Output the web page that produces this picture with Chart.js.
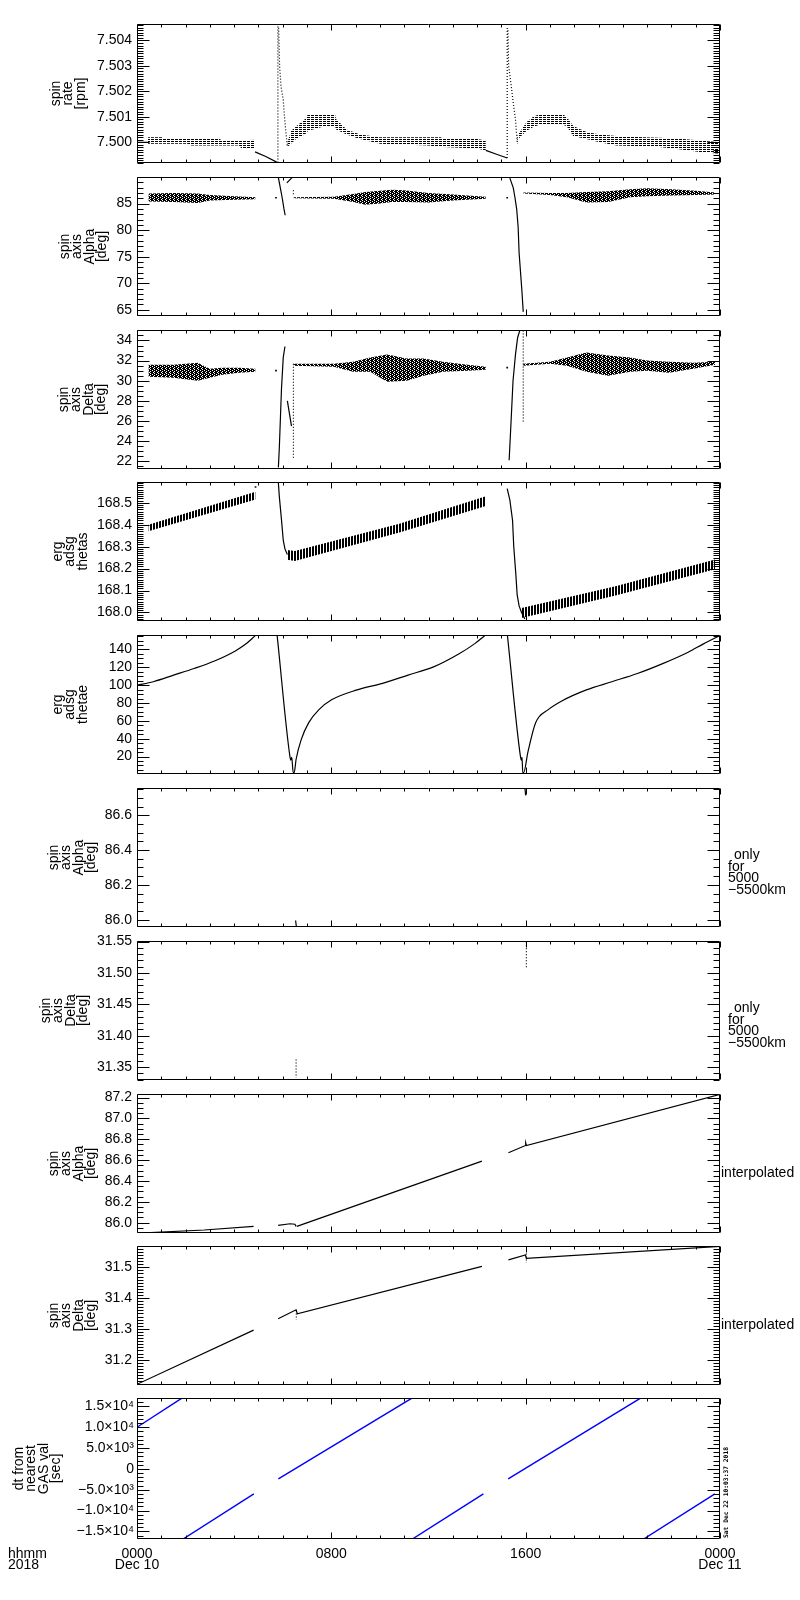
<!DOCTYPE html>
<html>
<head>
<meta charset="utf-8">
<title>spin axis summary</title>
<script src="https://cdn.jsdelivr.net/npm/chart.js@4.4.1/dist/chart.umd.min.js"></script>
<style>
  body { margin: 0; background: #fff; }
  #page { position: relative; width: 800px; height: 1600px; overflow: hidden; }
  #page canvas { position: absolute; left: 0; }
</style>
</head>
<body>
<div id="page"></div>
<script>
// x is hours after 0000 Dec 10 2018, bands are [h, low, high]

// X AXIS
const hourTicks = [0, 8, 16, 24];
const hourLabels = [['0000', 'Dec 10'], '0800', '1600', ['0000', 'Dec 11']];

// SPIN RATE [rpm]
const rateTicks = [7.500, 7.501, 7.502, 7.503, 7.504];
const rateLabels = ['7.500', '7.501', '7.502', '7.503', '7.504'];
const rateFlat0 = [[0, 7.50000], [0.45, 7.50000]];
const rateBandA = [[0.45, 7.49994, 7.50020], [1.05, 7.49994, 7.50020], [1.1, 7.49994, 7.50013], [2.1, 7.49994, 7.50013],
  [2.2, 7.49987, 7.50013], [3.4, 7.49987, 7.50013], [3.5, 7.49987, 7.50007], [4.2, 7.49987, 7.50007],
  [4.3, 7.49975, 7.50007], [4.86, 7.49975, 7.50010]];
const rateDropA = [[4.86, 7.49962], [5.3, 7.49944], [5.75, 7.49922]];
const rateSpikeA = [[5.80, 7.49920], [5.80, 7.50460]];
const rateDecayA = [[5.83, 7.50450], [5.87, 7.50300], [5.93, 7.50218], [6.02, 7.50167], [6.07, 7.50102], [6.13, 7.50040], [6.19, 7.49981]];
const rateBandB = [[6.19, 7.49981, 7.50000], [6.35, 7.49995, 7.50045], [6.57, 7.50015, 7.50064], [6.91, 7.50030, 7.50090],
  [7.05, 7.50045, 7.50111], [7.6, 7.50060, 7.50111], [8.15, 7.50064, 7.50111], [8.2, 7.50050, 7.50090],
  [8.63, 7.50030, 7.50050], [9.18, 7.50013, 7.50030], [10.0, 7.49994, 7.50020], [12.0, 7.49987, 7.50020],
  [12.5, 7.49981, 7.50020], [12.6, 7.49981, 7.50013], [14.0, 7.49975, 7.50013], [14.36, 7.49968, 7.50007]];
const rateDropB = [[14.36, 7.49968], [14.8, 7.49953], [15.24, 7.49938]];
const rateSpikeB = [[15.24, 7.49938], [15.24, 7.50455]];
const rateDecayB = [[15.27, 7.50440], [15.30, 7.50300], [15.42, 7.50210], [15.50, 7.50146], [15.58, 7.50090], [15.65, 7.50000]];
const rateBandC = [[15.65, 7.49990, 7.50025], [15.76, 7.50020, 7.50040], [16.04, 7.50045, 7.50080], [16.31, 7.50060, 7.50100],
  [16.59, 7.50070, 7.50111], [17.5, 7.50070, 7.50111], [17.68, 7.50064, 7.50100], [17.96, 7.50025, 7.50064],
  [18.5, 7.50013, 7.50040], [19.05, 7.50000, 7.50030], [19.74, 7.49987, 7.50025], [20.84, 7.49984, 7.50020],
  [21.52, 7.49981, 7.50018], [22.48, 7.49970, 7.50013], [23.17, 7.49962, 7.50007], [24, 7.49955, 7.50000]];

// SPIN AXIS ALPHA [deg]
const alphaTicks = [65, 70, 75, 80, 85];
const alphaLabels = ['65', '70', '75', '80', '85'];
const alphaBandA = [[0.47, 85.4, 86.9], [1.5, 85.3, 87.0], [2.5, 85.1, 86.9], [3.0, 85.6, 86.6], [4.0, 85.7, 86.4], [4.88, 85.8, 86.2]];
const alphaDotA = [[5.72, 86.1]];
const alphaDropA = [[5.82, 89.9], [5.92, 87.5], [5.98, 86.0], [6.05, 84.0], [6.1, 82.8]];
const alphaKinkA = [[6.17, 88.9], [6.38, 89.9]];
const alphaDotsA = [[6.44, 87.5], [6.44, 86.4]];
const alphaBandB = [[6.44, 86.0, 86.2], [8.1, 85.9, 86.3], [8.9, 85.3, 86.8], [9.4, 84.8, 87.2], [10.0, 85.0, 87.4],
  [10.5, 85.3, 87.6], [11.0, 85.3, 87.5], [12.0, 85.2, 87.0], [13.0, 85.6, 86.7], [14.36, 85.9, 86.3]];
const alphaDotB = [[15.24, 86.1]];
const alphaDropB = [[15.35, 89.8], [15.49, 87.95], [15.56, 86.1], [15.63, 83.97], [15.69, 80.6], [15.73, 75.7],
  [15.79, 72.0], [15.84, 68.9], [15.9, 64.6]];
const alphaBandC = [[15.9, 86.9, 87.1], [17.0, 86.6, 87.0], [17.7, 86.2, 87.0], [18.5, 85.2, 87.2], [19.4, 85.3, 87.3],
  [20.3, 86.2, 87.7], [21.0, 86.4, 87.9], [22.0, 86.5, 87.7], [23.0, 86.6, 87.4], [23.8, 86.7, 87.1]];

// SPIN AXIS DELTA [deg]
const deltaTicks = [22, 24, 26, 28, 30, 32, 34];
const deltaLabels = ['22', '24', '26', '28', '30', '32', '34'];
const deltaBandA = [[0.47, 30.4, 31.6], [1.5, 30.3, 31.6], [2.5, 30.0, 31.8], [3.0, 30.3, 31.2], [3.5, 30.6, 31.3],
  [4.2, 30.8, 31.3], [4.88, 30.9, 31.2]];
const deltaDotA = [[5.72, 31.0]];
const deltaRiseA = [[5.82, 21.4], [5.86, 23.4], [5.91, 26.7], [5.95, 29.3], [6.02, 32.3], [6.09, 33.4]];
const deltaKinkA = [[6.19, 28.0], [6.36, 25.5]];
const deltaDotsA = [[6.44, 31.7], [6.44, 22.2]];
const deltaBandB = [[6.44, 31.5, 31.7], [8.1, 31.4, 31.7], [8.9, 30.9, 31.9], [9.6, 30.9, 32.3], [10.3, 29.9, 32.6],
  [11.1, 30.0, 32.2], [11.8, 30.5, 32.2], [12.6, 30.9, 31.9], [13.6, 31.0, 31.6], [14.36, 31.1, 31.4]];
const deltaDotB = [[15.24, 31.3]];
const deltaRiseB = [[15.32, 22.1], [15.40, 26.0], [15.48, 30.0], [15.58, 32.6], [15.67, 34.3], [15.76, 35.0]];
const deltaDotsB = [[15.9, 35.0], [15.9, 25.8]];
const deltaBandC = [[15.9, 31.5, 31.7], [17.0, 31.7, 31.9], [17.7, 31.5, 32.3], [18.5, 30.9, 32.8], [19.4, 30.5, 32.5],
  [20.3, 30.9, 32.3], [21.0, 31.0, 32.0], [21.9, 30.8, 31.9], [22.9, 31.2, 31.8], [23.8, 31.6, 31.9]];

// ERG ADSG THETAS
const thetasTicks = [168.0, 168.1, 168.2, 168.3, 168.4, 168.5];
const thetasLabels = ['168.0', '168.1', '168.2', '168.3', '168.4', '168.5'];
const thetasBandA = [[0.47, 168.370, 168.400], [4.88, 168.515, 168.550]];
const thetasDotA = [[4.88, 168.572]];
const thetasDropA = [[5.82, 168.590], [5.86, 168.527], [5.95, 168.420], [6.02, 168.330], [6.09, 168.290], [6.19, 168.264]];
const thetasBandB = [[6.19, 168.240, 168.285], [6.5, 168.235, 168.280], [10.8, 168.365, 168.405], [14.36, 168.485, 168.530]];
const thetasDropB = [[15.24, 168.565], [15.35, 168.512], [15.46, 168.420], [15.51, 168.300], [15.6, 168.167],
  [15.65, 168.080], [15.73, 168.030], [15.83, 168.000], [15.97, 167.970]];
const thetasBandC = [[15.83, 167.975, 168.020], [19.7, 168.077, 168.120], [23.8, 168.197, 168.242]];

// ERG ADSG THETAE
const thetaeTicks = [20, 40, 60, 80, 100, 120, 140];
const thetaeLabels = ['20', '40', '60', '80', '100', '120', '140'];
const thetaeA = [[0, 100], [0.67, 103.9], [1.51, 111.3], [2.35, 118.7], [3.19, 127.1], [4.03, 138.1], [4.45, 145.5], [4.87, 155.5]];
const thetaeB = [[5.77, 155.5], [6.29, 21], [6.33, 16], [6.37, 19], [6.43, 2], [6.47, 2], [6.55, 17], [6.76, 39], [7.07, 58],
  [7.49, 72.6], [8.01, 83.6], [9.06, 94.7], [10.11, 102.1], [11.16, 111.3], [12.21, 120.5], [13.26, 135.2], [13.89, 146.3], [14.31, 155.5]];
const thetaeC = [[15.25, 155.5], [15.78, 21], [15.82, 16], [15.85, 19], [15.88, 2], [15.92, 2], [16.09, 24.7], [16.41, 57.9],
  [16.93, 72.6], [17.45, 81.8], [18.5, 94.7], [19.55, 103.9], [20.6, 113.1], [21.64, 124.2], [22.69, 137], [23.32, 146.3], [24, 155.8]];

// SPIN AXIS ALPHA, only for 5000-5500km
const alphaOnlyTicks = [86.0, 86.2, 86.4, 86.6];
const alphaOnlyLabels = ['86.0', '86.2', '86.4', '86.6'];
const alphaOnlyA = [[6.53, 85.995], [6.56, 85.960]];
const alphaOnlyB = [[15.97, 86.755], [16.0, 86.715]];

// SPIN AXIS DELTA, only for 5000-5500km
const deltaOnlyTicks = [31.35, 31.40, 31.45, 31.50, 31.55];
const deltaOnlyLabels = ['31.35', '31.40', '31.45', '31.50', '31.55'];
const deltaOnlyA = [[6.55, 31.362], [6.55, 31.333]];
const deltaOnlyB = [[16.03, 31.549], [16.03, 31.509]];

// SPIN AXIS ALPHA, interpolated
const alphaIntTicks = [86.0, 86.2, 86.4, 86.6, 86.8, 87.0, 87.2];
const alphaIntLabels = ['86.0', '86.2', '86.4', '86.6', '86.8', '87.0', '87.2'];
const alphaIntA = [[0.55, 85.905], [2.77, 85.930], [4.8, 85.965]];
const alphaIntB = [[5.81, 85.975], [6.3, 85.990], [6.5, 85.985], [6.55, 85.965]];
const alphaIntC = [[6.58, 85.965], [14.2, 86.590]];
const alphaIntD = [[15.29, 86.670], [15.99, 86.740], [16.0, 86.765], [16.03, 86.740], [24, 87.230]];

// SPIN AXIS DELTA, interpolated
const deltaIntTicks = [31.2, 31.3, 31.4, 31.5];
const deltaIntLabels = ['31.2', '31.3', '31.4', '31.5'];
const deltaIntA = [[0, 31.120], [4.8, 31.296]];
const deltaIntB = [[5.81, 31.333], [6.55, 31.362], [6.6, 31.349], [14.2, 31.503]];
const deltaIntTickB = [[6.56, 31.360], [6.56, 31.330]];
const deltaIntC = [[15.29, 31.524], [15.99, 31.540], [16.03, 31.529], [24, 31.568]];
const deltaIntTickC = [[16.03, 31.545], [16.03, 31.515]];

// DT FROM NEAREST GAS VAL [sec]
const dtTicks = [-15000, -10000, -5000, 0, 5000, 10000, 15000];
const dtLabels = ['\u22121.5\u00d710\u2074', '\u22121.0\u00d710\u2074', '\u22125.0\u00d710\u00b3', '0', '5.0\u00d710\u00b3', '1.0\u00d710\u2074', '1.5\u00d710\u2074'];
const dtSeg1 = [[0, 10000], [1.85, 17000]];
const dtSeg2 = [[1.88, -16900], [4.81, -6000]];
const dtSeg3 = [[5.82, -2400], [11.32, 17000]];
const dtSeg4 = [[11.32, -16900], [14.26, -6000]];
const dtSeg5 = [[15.28, -2400], [20.73, 17000]];
const dtSeg6 = [[20.84, -16900], [23.79, -6000]];

const FONT = '"Liberation Sans", Arial, sans-serif';

// texture fills, made per canvas
function makeFills(ctx) {
  function tile(rows) {
    const c = document.createElement('canvas');
    c.width = rows[0].length;
    c.height = rows.length;
    const g = c.getContext('2d');
    g.fillStyle = '#000';
    rows.forEach((r, j) => [...r].forEach((ch, i) => { if (ch === 'x') g.fillRect(i, j, 1, 1); }));
    return ctx.createPattern(c, 'repeat');
  }
  return {
    rows: tile(['xx.xxx.x', '........']),
    speck: tile(['xx.x', '.xxx', 'xx.x', 'x.xx']),
    hatch: tile(['xx.'])
  };
}

const pts = rows => rows.map(r => ({ x: r[0], y: r[1] }));

function line(rows, dash, color, width) {
  return {
    data: pts(rows), borderColor: color || '#000', borderWidth: width || 1.2,
    borderDash: dash || [], pointRadius: 0, fill: false, tension: 0
  };
}

// smooth curve through the read points (thetae)
function curve(rows) {
  return Object.assign(line(rows), { cubicInterpolationMode: 'monotone' });
}

function dots(rows) {
  return {
    data: pts(rows), showLine: false, pointStyle: 'rect', pointRadius: 1.2,
    pointBackgroundColor: '#000', pointBorderWidth: 0
  };
}

function band(rows, fill) {
  return [
    { data: rows.map(r => ({ x: r[0], y: r[2] })), fill: '+1', backgroundColor: fill,
      borderColor: 'transparent', borderWidth: 1, pointRadius: 0 },
    { data: rows.map(r => ({ x: r[0], y: r[1] })), fill: false,
      borderColor: 'transparent', borderWidth: 1, pointRadius: 0 }
  ];
}

const dotted = [1, 2];
const onlyNote = ['only', 'for', '5000', '\u22125500km'];

const panels = [
  { title: ['spin', 'rate', '[rpm]'], titleX: 56, min: 7.49920, max: 7.50463, ticks: rateTicks, labels: rateLabels, minor: 0.0001,
    sets: F => [...band(rateBandA, F.rows), line(rateFlat0), line(rateDropA), line(rateSpikeA, dotted), line(rateDecayA, dotted),
      ...band(rateBandB, F.rows), line(rateDropB), line(rateSpikeB, dotted), line(rateDecayB, dotted), ...band(rateBandC, F.rows)] },
  { title: ['spin', 'axis', 'Alpha', '[deg]'], titleX: 65, min: 63.9, max: 89.93, ticks: alphaTicks, labels: alphaLabels, minor: 1,
    sets: F => [...band(alphaBandA, F.speck), dots(alphaDotA), line(alphaDropA), line(alphaKinkA), line(alphaDotsA, dotted),
      ...band(alphaBandB, F.speck), dots(alphaDotB), line(alphaDropB), ...band(alphaBandC, F.speck)] },
  { title: ['spin', 'axis', 'Delta', '[deg]'], titleX: 64, min: 21.28, max: 35.0, ticks: deltaTicks, labels: deltaLabels, minor: 0.5,
    sets: F => [...band(deltaBandA, F.speck), dots(deltaDotA), line(deltaRiseA), line(deltaKinkA), line(deltaDotsA, dotted),
      ...band(deltaBandB, F.speck), dots(deltaDotB), line(deltaRiseB), line(deltaDotsB, dotted), ...band(deltaBandC, F.speck)] },
  { title: ['erg', 'adsg', 'thetas'], titleX: 58, min: 167.963, max: 168.593, ticks: thetasTicks, labels: thetasLabels, minor: 0.01,
    sets: F => [...band(thetasBandA, F.hatch), dots(thetasDotA), line(thetasDropA), ...band(thetasBandB, F.hatch),
      line(thetasDropB), ...band(thetasBandC, F.hatch)] },
  { title: ['erg', 'adsg', 'thetae'], titleX: 58, min: 0.9, max: 155.8, ticks: thetaeTicks, labels: thetaeLabels, minor: 5,
    sets: F => [curve(thetaeA), curve(thetaeB), curve(thetaeC)] },
  { title: ['spin', 'axis', 'Alpha', '[deg]'], titleX: 54, min: 85.96, max: 86.755, ticks: alphaOnlyTicks, labels: alphaOnlyLabels, minor: 0.05,
    note: onlyNote, sets: F => [line(alphaOnlyA), line(alphaOnlyB)] },
  { title: ['spin', 'axis', 'Delta', '[deg]'], titleX: 46, min: 31.33, max: 31.5502, ticks: deltaOnlyTicks, labels: deltaOnlyLabels, minor: 0.01,
    note: onlyNote, sets: F => [line(deltaOnlyA, dotted), line(deltaOnlyB, dotted)] },
  { title: ['spin', 'axis', 'Alpha', '[deg]'], titleX: 54, min: 85.905, max: 87.23, ticks: alphaIntTicks, labels: alphaIntLabels, minor: 0.05,
    note: ['interpolated'], sets: F => [line(alphaIntA), line(alphaIntB), line(alphaIntC), line(alphaIntD)] },
  { title: ['spin', 'axis', 'Delta', '[deg]'], titleX: 54, min: 31.119, max: 31.568, ticks: deltaIntTicks, labels: deltaIntLabels, minor: 0.01,
    note: ['interpolated'], sets: F => [line(deltaIntA), line(deltaIntB), line(deltaIntTickB, dotted), line(deltaIntC), line(deltaIntTickC, dotted)] },
  { title: ['dt from', 'nearest', 'GAS val', '[sec]'], titleX: 19, min: -16830, max: 17020, ticks: dtTicks, labels: dtLabels, minor: 1000, tickPad: 3,
    sets: F => [dtSeg1, dtSeg2, dtSeg3, dtSeg4, dtSeg5, dtSeg6].map(s => line(s, [], '#0000ff', 1.4)) }
];

// IDL style frame, inward ticks and side texts
const idlAxes = {
  id: 'idlAxes',
  afterDraw(chart, args, o) {
    const { ctx, chartArea: a, scales: { x, y } } = chart;
    const L = Math.round(a.left) + 0.5, R = Math.round(a.right) - 0.5;
    const T = Math.round(a.top) + 0.5, B = Math.round(a.bottom) - 0.5;
    ctx.save();
    ctx.strokeStyle = '#000';
    ctx.lineWidth = 1;
    ctx.beginPath();
    ctx.rect(L, T, R - L, B - T);
    const n0 = Math.ceil(y.min / o.minor - 1e-6), n1 = Math.floor(y.max / o.minor + 1e-6);
    for (let n = n0; n <= n1; n++) {
      const v = n * o.minor;
      const py = Math.round(y.getPixelForValue(v)) + 0.5;
      const len = o.ticks.some(t => Math.abs(t - v) < o.minor / 4) ? 12 : 6;
      ctx.moveTo(L, py); ctx.lineTo(L + len, py);
      ctx.moveTo(R, py); ctx.lineTo(R - len, py);
    }
    for (let h = 0; h <= 24; h++) {
      const px = Math.round(x.getPixelForValue(h)) + 0.5;
      const len = hourTicks.includes(h) ? 6 : 3;
      ctx.moveTo(px, T); ctx.lineTo(px, T + len);
      ctx.moveTo(px, B); ctx.lineTo(px, B - len);
    }
    ctx.stroke();

    ctx.fillStyle = '#000';
    ctx.font = '14px ' + FONT;
    ctx.textBaseline = 'middle';
    ctx.textAlign = 'left';
    if (o.note && o.note.length > 1) {
      o.note.forEach((s, k) => ctx.fillText(s, k === 0 ? 734 : 728, a.top + 67 + k * 11.5));
    } else if (o.note) {
      ctx.fillText(o.note[0], 721, a.top + 78.5);
    }
    if (o.last) {
      ctx.fillText('hhmm', 8, a.bottom + 14.75);
      ctx.fillText('2018', 8, a.bottom + 26.25);
      ctx.save();
      ctx.translate(726, a.bottom - 1);
      ctx.rotate(-Math.PI / 2);
      ctx.font = 'bold 6.3px "DejaVu Sans Mono", monospace';
      ctx.fillText('Sat Dec 22 10:03:37 2018', 0, 0);
      ctx.restore();
    }
    ctx.restore();
  }
};
Chart.register(idlAxes);

const page = document.getElementById('page');
panels.forEach((p, i) => {
  const last = i === panels.length - 1;
  const cv = document.createElement('canvas');
  cv.width = 800;
  cv.height = last ? 205 : 165;
  cv.style.top = (Math.round(23 + i * 152.8) - 12) + 'px';
  page.appendChild(cv);
  const ctx = cv.getContext('2d');
  const F = makeFills(ctx);

  new Chart(ctx, {
    type: 'line',
    data: { datasets: p.sets(F) },
    options: {
      responsive: false,
      animation: false,
      layout: { padding: { left: 0, right: 80, top: 12, bottom: 12 } },
      plugins: {
        legend: { display: false },
        tooltip: { enabled: false },
        idlAxes: { minor: p.minor, ticks: p.ticks, note: p.note, last }
      },
      scales: {
        x: {
          type: 'linear', min: 0, max: 24, display: last,
          afterBuildTicks: s => { s.ticks = hourTicks.map(v => ({ value: v })); },
          afterFit: s => { s.height = last ? 40 : 0; },
          grid: { display: false, drawTicks: false },
          border: { display: false },
          ticks: {
            color: '#000', font: { family: FONT, size: 14, lineHeight: 0.82 }, padding: 9,
            maxRotation: 0, autoSkip: false, callback: (v, k) => hourLabels[k]
          }
        },
        y: {
          type: 'linear', min: p.min, max: p.max,
          afterBuildTicks: s => { s.ticks = p.ticks.map(v => ({ value: v })); },
          afterFit: s => { s.width = 137; },
          grid: { display: false, drawTicks: false },
          border: { display: false },
          ticks: {
            color: '#000', font: { family: FONT, size: 14 }, padding: p.tickPad || 5,
            autoSkip: false, callback: (v, k) => p.labels[k]
          },
          title: {
            display: true, text: p.title, color: '#000',
            font: { family: FONT, size: 14, lineHeight: 0.88 },
            padding: { top: p.titleX - 6, bottom: 0 }
          }
        }
      }
    }
  });
});
</script>
</body>
</html>
